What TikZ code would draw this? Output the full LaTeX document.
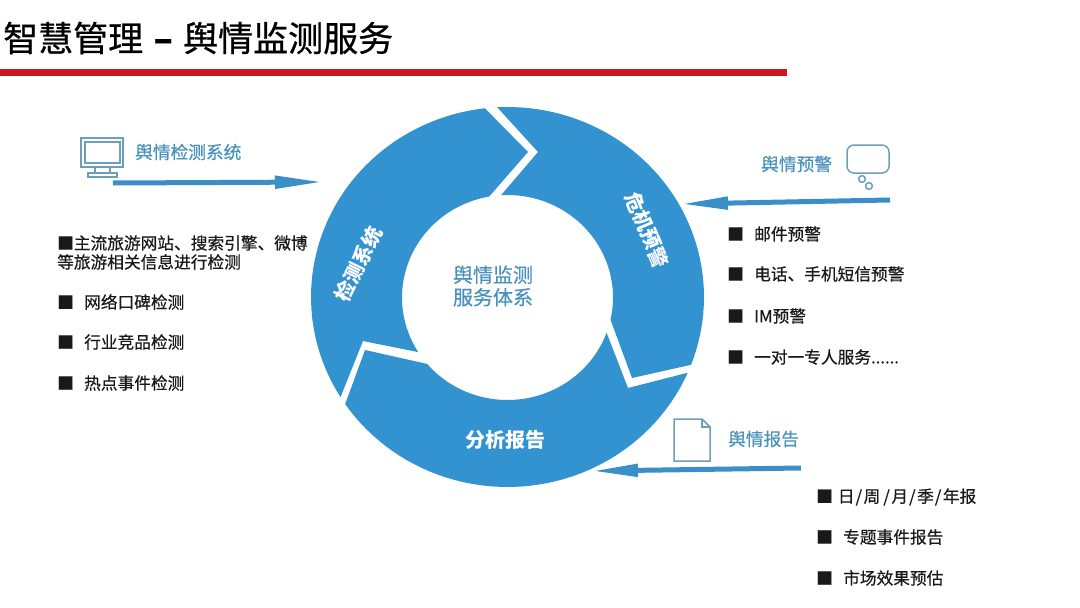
\documentclass[tikz,border=0pt]{standalone}
\usepackage{fontspec}
\usetikzlibrary{arrows.meta}
\setmainfont{Noto Sans CJK SC}
\newfontfamily\cjkmed[FakeBold=0.45]{Noto Sans CJK SC}
\newfontfamily\cjkhead[FakeBold=0.7]{Noto Sans CJK SC}
\definecolor{ringblue}{HTML}{3393D1}
\definecolor{labelblue}{HTML}{4A92BE}
\definecolor{iconblue}{HTML}{6E9FB8}
\definecolor{arrowblue}{HTML}{3A8FC8}
\definecolor{barred}{HTML}{CE1620}
\tikzset{
  seg/.style={fill=ringblue,draw=none},
  titletext/.style={anchor=west,inner sep=0pt,font=\fontsize{35}{40}\selectfont\cjkhead},
  listtext/.style={anchor=west,inner sep=0pt,text=black!90,font=\fontsize{16.7}{19}\selectfont\cjkmed},
  bluelabel/.style={anchor=west,inner sep=0pt,text=labelblue,font=\fontsize{17.7}{20}\selectfont\cjkmed},
  centertext/.style={inner sep=0pt,text=labelblue,align=center,font=\fontsize{20}{22.5}\selectfont\cjkmed},
  ringtext/.style={inner sep=0pt,text=white,font=\fontsize{20}{23}\selectfont\bfseries},
  flow/.style={draw=arrowblue,line width=5pt},
  icon/.style={draw=iconblue,line width=1.5pt,fill=none},
}
\newcommand{\slashsep}{\hspace{1pt}/\hspace{1.5pt}}
\begin{document}
\begin{tikzpicture}[x=1pt,y=-1pt]
\useasboundingbox (0,0) rectangle (1080,608);
\fill[white] (0,0) rectangle (1080,608);
% title
\node[titletext] (title) at (3,38) {智慧管理\makebox[40pt]{\bfseries –}舆情监测服务};
\fill[barred] (0,69) rectangle (787,76);
% ring segments
\def\cxa{507.5}\def\cya{297}\def\rxa{196.5}\def\rya{190}
\def\cxb{507.5}\def\cyb{297.5}\def\rxb{105.5}\def\ryb{102.5}
\fill[seg] plot[domain=148.2:263.4,samples=50] ({\cxa+\rxa*cos(\x)},{\cya+\rya*sin(\x)})
  -- (528,152)
  -- plot[domain=260:147.8,samples=50] ({\cxb+\rxb*cos(\x)},{\cyb+\ryb*sin(\x)})
  -- (363,341) -- cycle;
\fill[seg] plot[domain=266.5:372.5,samples=50] ({\cxb+\rxb*cos(\x)},{\cyb+\ryb*sin(\x)})
  -- (632,378)
  -- plot[domain=380.9:267,samples=50] ({\cxa+\rxa*cos(\x)},{\cya+\rya*sin(\x)})
  -- (538,152) -- cycle;
\fill[seg] (628,388)
  -- plot[domain=23.5:145.7,samples=50] ({\cxa+\rxa*cos(\x)},{\cya+\rya*sin(\x)})
  -- (365,350)
  -- plot[domain=139.6:20.1,samples=50] ({\cxb+\rxb*cos(\x)},{\cyb+\ryb*sin(\x)})
  -- cycle;
% ring labels
\node[ringtext,rotate=64] (seg1) at (358.5,264) {检测系统};
\node[ringtext,rotate=-67] (seg2) at (647,230) {危机预警};
\node[ringtext] (seg3) at (505,440) {分析报告};
\node[centertext] (core) at (493,286) {舆情监测\\服务体系};
% monitor icon
\draw[icon] (81,138) rectangle (123,167);
\draw[icon] (85,142) rectangle (120,163);
\draw[icon] (95,167) -- (95,173) (110,167) -- (110,173);
\draw[icon] (88,173) rectangle (117,177);
\node[bluelabel] (lab1) at (135,152) {舆情检测系统};
% thought bubble
\draw[icon,rounded corners=7pt] (847,145) rectangle (889,173);
\draw[icon] (862,179) circle[radius=3.4];
\draw[icon] (869,186) circle[radius=3.4];
\node[bluelabel] (lab2) at (761,164) {舆情预警};
% document icon
\draw[icon] (702,419) -- (674,419) -- (674,461) -- (710,461) -- (710,427) -- cycle;
\draw[icon] (702,419) -- (702,427) -- (710,427);
\node[bluelabel] (lab3) at (728,439) {舆情报告};
% arrows
\coordinate (a1s) at (113,183); \coordinate (a1e) at (323,182);
\coordinate (a2s) at (890,200); \coordinate (a2e) at (681,204);
\coordinate (a3s) at (801,468); \coordinate (a3e) at (592,471);
\draw[flow,-{Triangle[length=48pt,width=12pt]}] (a1s) -- (a1e);
\draw[flow,-{Triangle[length=47pt,width=12pt]}] (a2s) -- (a2e);
\draw[flow,-{Triangle[length=46pt,width=12pt]}] (a3s) -- (a3e);
% left list
\node[listtext,align=left] (l1) at (57,252.5) {■主流旅游网站、搜索引擎、微博\\等旅游相关信息进行检测};
\node[listtext] (l2) at (57,302) {■\hspace{10.3pt}网络口碑检测};
\node[listtext] (l3) at (57,342) {■\hspace{10.3pt}行业竞品检测};
\node[listtext] (l4) at (57,383) {■\hspace{10.3pt}热点事件检测};
% right list
\node[listtext] (r1) at (727,234) {■\hspace{10.3pt}邮件预警};
\node[listtext] (r2) at (727,274) {■\hspace{10.3pt}电话、手机短信预警};
\node[listtext] (r3) at (727,316) {■\hspace{10.3pt}IM预警};
\node[listtext] (r4) at (727,357) {■\hspace{10.3pt}一对一专人服务......};
% bottom list
\node[listtext] (b1) at (816,497) {■\hspace{5pt}日\slashsep 周\hspace{2pt}\slashsep 月\slashsep 季\slashsep 年报};
\node[listtext] (b2) at (816,537) {■\hspace{10.3pt}专题事件报告};
\node[listtext] (b3) at (816,578) {■\hspace{10.3pt}市场效果预估};
\end{tikzpicture}
\end{document}
